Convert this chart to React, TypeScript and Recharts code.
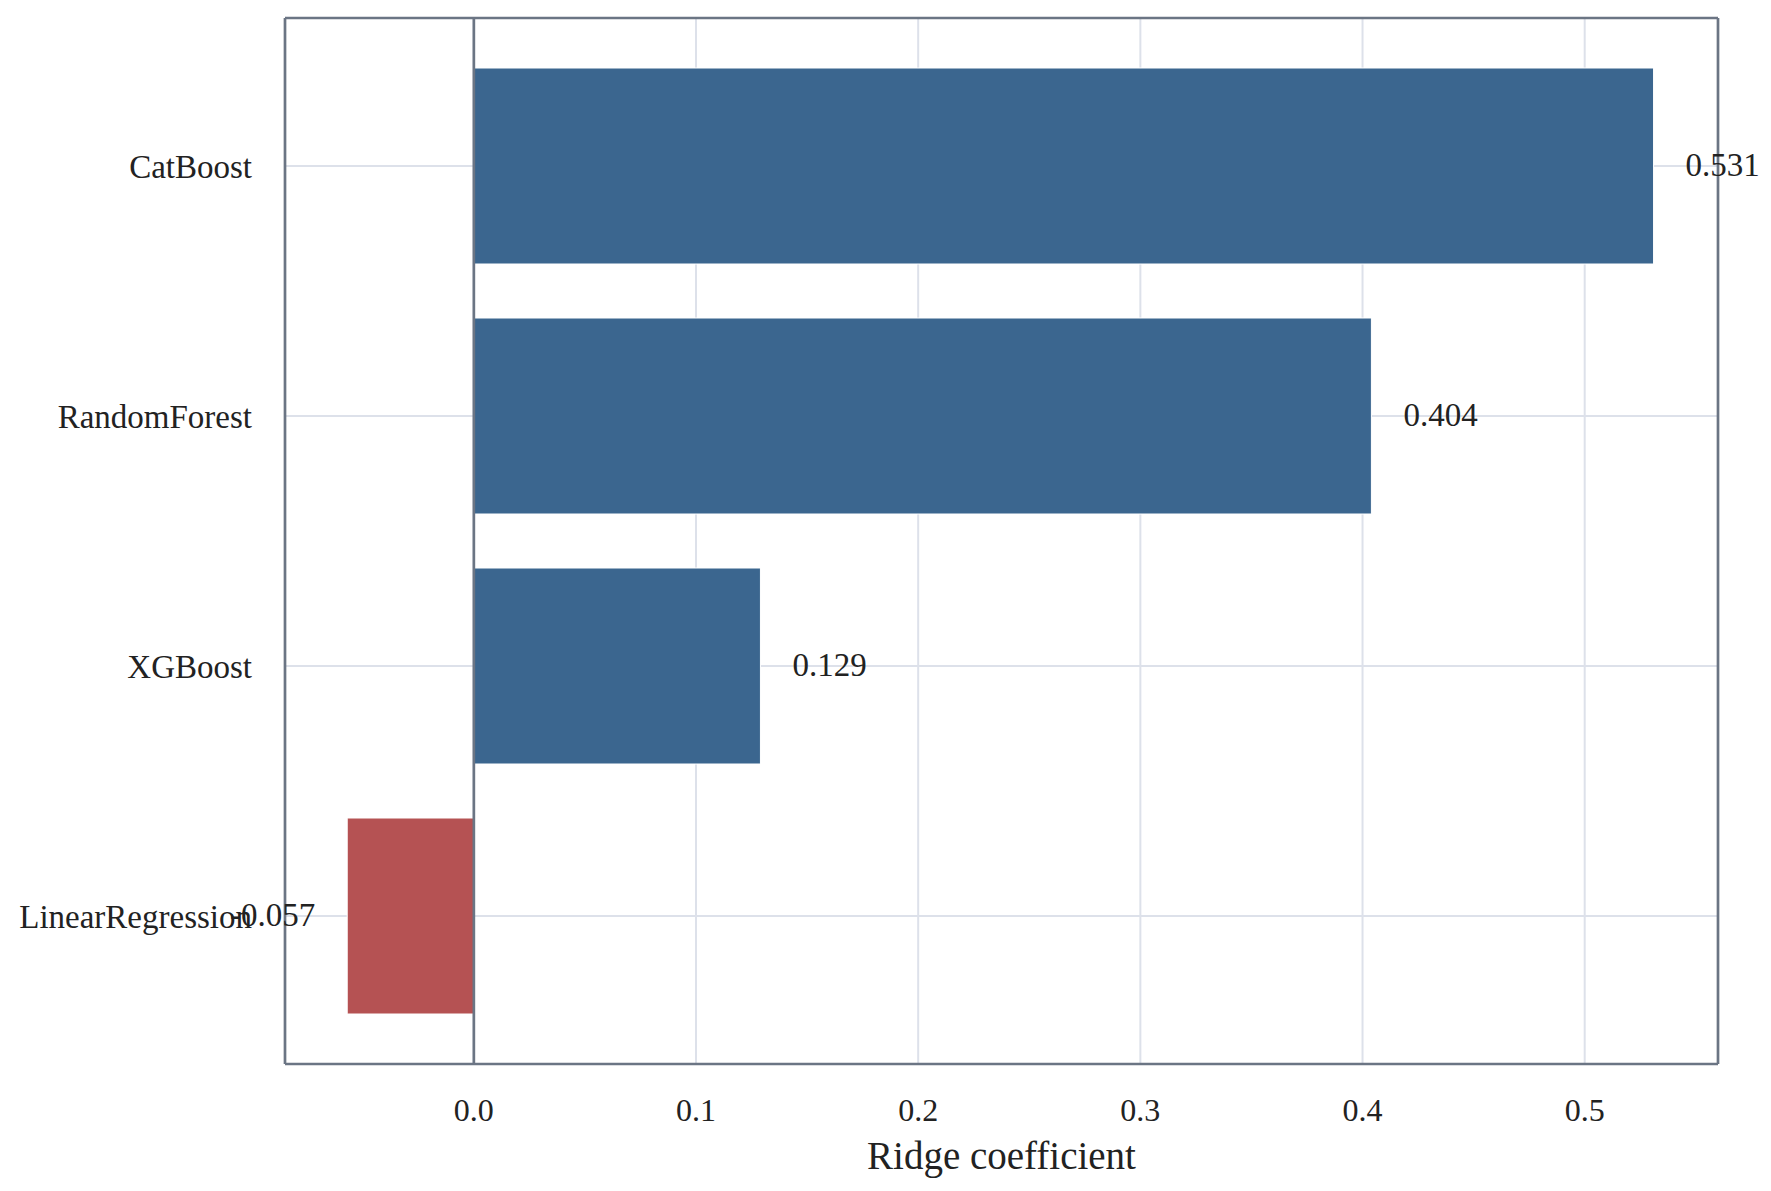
import { BarChart, Bar, XAxis, YAxis, CartesianGrid, ReferenceLine, LabelList, Cell } from 'recharts';

// model names (top to bottom) and their ridge coefficients
const models = ['CatBoost', 'RandomForest', 'XGBoost', 'LinearRegression'];
const coefficients = [0.531, 0.404, 0.129, -0.057];
const xTicks = [0, 0.1, 0.2, 0.3, 0.4, 0.5];
const xDomain = [-0.085, 0.56];

const data = models.map((model, i) => ({ model, coef: coefficients[i] }));

const FONT = '"Liberation Serif", "Times New Roman", serif';
const BLUE = '#3b668f';
const RED = '#b55253';
const FRAME = '#6b7584';
const GRID = '#dde1ea';

const ValueLabel = (props: any) => {
  const { x, y, width, height, value } = props;
  const left = Math.min(x, x + width);
  const right = Math.max(x, x + width);
  const pos = value >= 0;
  return (
    <text
      x={pos ? right + 32 : left - 32}
      y={y + height / 2 - 2}
      dy="0.355em"
      textAnchor={pos ? 'start' : 'end'}
      fontFamily={FONT}
      fontSize={33}
      fill="#222"
    >
      {value.toFixed(3)}
    </text>
  );
};

const App = () => {
  return (
    <div style={{ width: 1771, height: 1191 }}>
      <style>{'body{margin:0}'}</style>
      <BarChart
        width={1771}
        height={1191}
        data={data}
        layout="vertical"
        margin={{ top: 17, right: 52, bottom: 0, left: 0 }}
      >
        <CartesianGrid stroke={GRID} strokeWidth={2} />
        <XAxis
          type="number"
          dataKey="coef"
          domain={xDomain}
          ticks={xTicks}
          allowDataOverflow
          tickFormatter={(v: number) => v.toFixed(1)}
          tickSize={0}
          tickMargin={34}
          height={127}
          axisLine={{ stroke: FRAME, strokeWidth: 2.7 }}
          tick={{ fontFamily: FONT, fontSize: 32, fill: '#222' }}
          label={{
            value: 'Ridge coefficient',
            position: 'insideBottom',
            offset: 22,
            fontFamily: FONT,
            fontSize: 39,
            fill: '#222',
          }}
        />
        <XAxis
          xAxisId="top"
          orientation="top"
          type="number"
          domain={xDomain}
          allowDataOverflow
          height={1}
          tick={false}
          tickLine={false}
          axisLine={{ stroke: FRAME, strokeWidth: 2.7 }}
        />
        <YAxis
          type="category"
          dataKey="model"
          width={285}
          tickSize={0}
          tickMargin={33}
          padding={{ top: 23, bottom: 23 }}
          axisLine={{ stroke: FRAME, strokeWidth: 2.7 }}
          tick={{ fontFamily: FONT, fontSize: 33, fill: '#222' }}
        />
        <YAxis
          yAxisId="right"
          orientation="right"
          type="category"
          dataKey="model"
          width={1}
          tick={false}
          tickLine={false}
          axisLine={{ stroke: FRAME, strokeWidth: 2.7 }}
        />
        <Bar dataKey="coef" barSize={196} stroke="#ffffff" strokeWidth={1} isAnimationActive={false}>
          {data.map((d) => (
            <Cell key={d.model} fill={d.coef >= 0 ? BLUE : RED} />
          ))}
          <LabelList dataKey="coef" content={ValueLabel} />
        </Bar>
        <ReferenceLine x={0} stroke={FRAME} strokeWidth={2.7} />
      </BarChart>
    </div>
  );
};

export default App;
